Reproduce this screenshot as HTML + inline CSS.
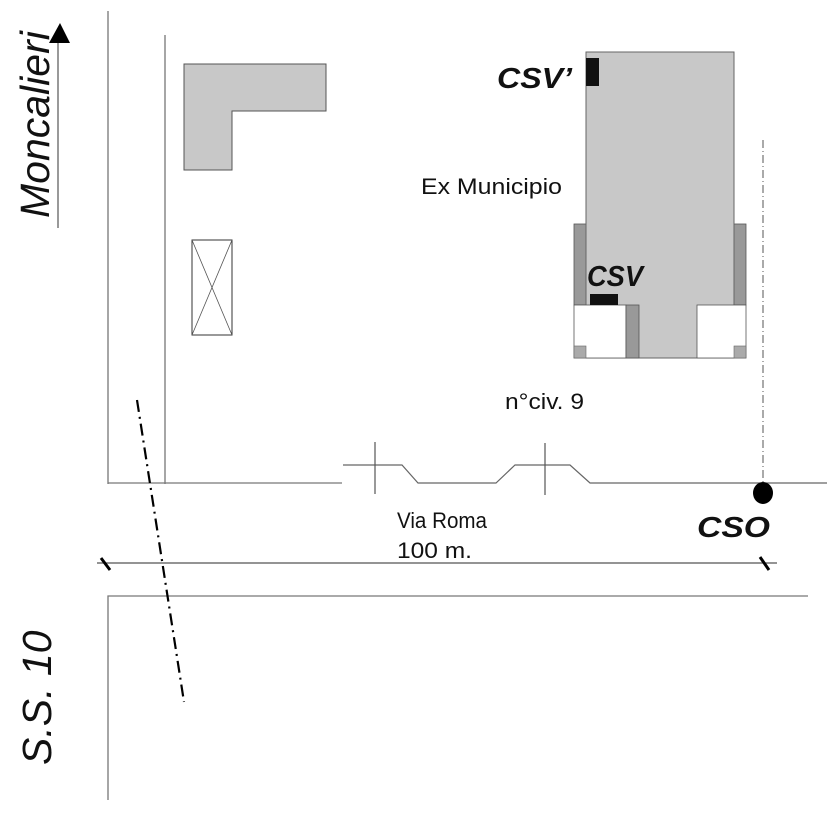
<!DOCTYPE html>
<html><head><meta charset="utf-8"><style>
html,body{margin:0;padding:0;background:#fff}
svg{display:block}
text{font-family:"Liberation Sans",sans-serif}
</style></head><body>
<svg width="827" height="827" viewBox="0 0 827 827" xmlns="http://www.w3.org/2000/svg">
<rect width="827" height="827" fill="#fff"/>
<line x1="108" y1="11" x2="108" y2="484" stroke="#777" stroke-width="1.3"/>
<line x1="165" y1="35" x2="165" y2="484" stroke="#777" stroke-width="1.3"/>
<polyline points="108,483 342,483" fill="none" stroke="#777" stroke-width="1.3"/>
<polyline points="343,465 402,465 418,483 496,483 515,465 570,465 590,483 827,483" fill="none" stroke="#666" stroke-width="1.2"/>
<line x1="375" y1="442" x2="375" y2="494" stroke="#555" stroke-width="1.2"/>
<line x1="545" y1="443" x2="545" y2="495" stroke="#555" stroke-width="1.2"/>
<polyline points="108,800 108,596 808,596" fill="none" stroke="#777" stroke-width="1.3"/>
<line x1="97" y1="563" x2="777" y2="563" stroke="#555" stroke-width="1.2"/>
<line x1="101" y1="558" x2="110" y2="570" stroke="#000" stroke-width="3"/>
<line x1="760" y1="557" x2="769" y2="570" stroke="#000" stroke-width="3"/>
<line x1="137" y1="400" x2="184" y2="702" stroke="#000" stroke-width="2.2" stroke-dasharray="12,5,2,5"/>
<line x1="763" y1="140" x2="763" y2="483" stroke="#555" stroke-width="1" stroke-dasharray="8,3,1,3"/>
<ellipse cx="763" cy="493" rx="10" ry="11" fill="#000"/>
<polygon points="184,64 326,64 326,111 232,111 232,170 184,170" fill="#c8c8c8" stroke="#555" stroke-width="1"/>
<rect x="192" y="240" width="40" height="95" fill="#fff" stroke="#333" stroke-width="1"/>
<line x1="192" y1="240" x2="232" y2="335" stroke="#555" stroke-width="0.8"/>
<line x1="232" y1="240" x2="192" y2="335" stroke="#555" stroke-width="0.8"/>
<rect x="574" y="224" width="12" height="81" fill="#999" stroke="#555" stroke-width="0.8"/>
<rect x="734" y="224" width="12" height="81" fill="#999" stroke="#555" stroke-width="0.8"/>
<rect x="586" y="52" width="148" height="306" fill="#c8c8c8" stroke="#666" stroke-width="1"/>
<rect x="574" y="305" width="52" height="53" fill="#fff" stroke="#555" stroke-width="0.8"/>
<rect x="626" y="305" width="13" height="53" fill="#999" stroke="#555" stroke-width="0.8"/>
<rect x="697" y="305" width="49" height="53" fill="#fff" stroke="#555" stroke-width="0.8"/>
<rect x="574" y="346" width="12" height="12" fill="#aaa" stroke="#666" stroke-width="0.6"/>
<rect x="734" y="346" width="12" height="12" fill="#aaa" stroke="#666" stroke-width="0.6"/>
<rect x="586" y="58" width="13" height="28" fill="#111"/>
<rect x="590" y="294" width="28" height="11" fill="#111"/>
<text x="497" y="88" font-size="29" font-weight="bold" font-style="italic" fill="#111" textLength="75" lengthAdjust="spacingAndGlyphs">CSV’</text>
<text x="587" y="286" font-size="29" font-weight="bold" font-style="italic" fill="#111" textLength="56" lengthAdjust="spacingAndGlyphs">CSV</text>
<text x="697" y="537" font-size="29" font-weight="bold" font-style="italic" fill="#111" textLength="73" lengthAdjust="spacingAndGlyphs">CSO</text>
<text x="421" y="194" font-size="22" fill="#111" textLength="141" lengthAdjust="spacingAndGlyphs">Ex Municipio</text>
<text x="505" y="409" font-size="22" fill="#111" textLength="79" lengthAdjust="spacingAndGlyphs">n°civ. 9</text>
<text x="397" y="528" font-size="22" fill="#111" textLength="90" lengthAdjust="spacingAndGlyphs">Via Roma</text>
<text x="397" y="558" font-size="22" fill="#111" textLength="75" lengthAdjust="spacingAndGlyphs">100 m.</text>
<text transform="translate(49,218) rotate(-90)" font-size="41" font-style="italic" fill="#111">Moncalieri</text>
<line x1="58" y1="40" x2="58" y2="228" stroke="#333" stroke-width="1"/>
<polygon points="60,23 49,43 70,43" fill="#000"/>
<text transform="translate(51,765) rotate(-90)" font-size="41" font-style="italic" fill="#111">S.S. 10</text>
</svg>
</body></html>
